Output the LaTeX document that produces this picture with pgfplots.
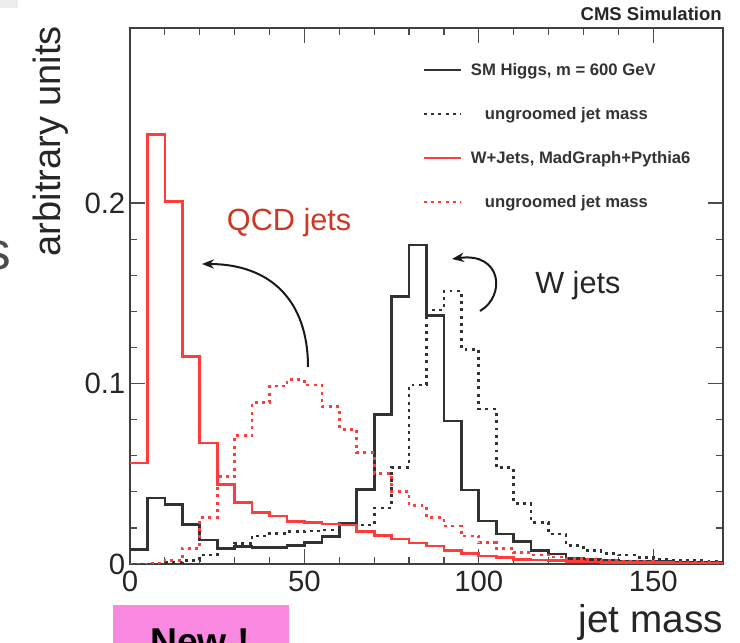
\documentclass[border=0pt]{standalone}
\usepackage{pgfplots}
\pgfplotsset{compat=1.18}
\usepackage{fontspec}
\setmainfont{Liberation Sans}
\usetikzlibrary{arrows.meta}

\definecolor{hblack}{RGB}{50,50,50}
\definecolor{wred}{RGB}{255,60,60}
\definecolor{qcdred}{RGB}{205,55,35}
\definecolor{newpink}{RGB}{248,136,224}

\begin{document}
\begin{tikzpicture}
\begin{axis}[
  at={(0pt,0pt)}, anchor=south west,
  scale only axis, width=444.75pt, height=402pt,
  xmin=0, xmax=170, ymin=0, ymax=0.297,
  xtick={0,50,100,150}, ytick={0,0.1,0.2},
  minor x tick num=4, minor y tick num=4,
  tick align=inside,
  major tick length=11.5pt, minor tick length=5.5pt,
  every tick/.append style={black!70, line width=0.9pt},
  axis line style={black!75, line width=1.4pt},
  tick label style={font=\fontsize{22}{26}\selectfont, text=black!85},
  /pgf/number format/assume math mode=true,
  yticklabel style={/pgf/number format/fixed, /pgf/number format/precision=1},
  xticklabel style={yshift=-2pt},
  xlabel={jet mass}, ylabel={arbitrary units},
  xlabel style={at={(axis description cs:1,0)}, anchor=base east, yshift=-51.75pt,
    font=\fontsize{29}{34}\selectfont, text=black!85, inner sep=0pt},
  ylabel style={at={(axis description cs:-0.1332,0.789)}, anchor=center,
    font=\fontsize{28.5}{34}\selectfont, text=black!85},
  legend style={draw=none, fill=none, at={(axis description cs:0.493,0.94)},
    anchor=north west, inner sep=0pt, row sep=18.5pt,
    font=\fontsize{12.5}{15}\bfseries\selectfont, text=black!80, cells={anchor=west},
    /tikz/every odd column/.append style={column sep=5pt}},
  legend image code/.code={\draw[#1, line width=1.5pt] (0pt,0pt) -- (27.75pt,0pt);},
]
% SM Higgs groomed (black solid)
\addplot[const plot, hblack, line width=2pt] table {
x y
0 0.008
5 0.0365
10 0.033
15 0.022
20 0.0133
25 0.0087
30 0.0096
35 0.0092
40 0.0092
45 0.0102
50 0.0119
55 0.0153
60 0.0225
65 0.0414
70 0.0828
75 0.1481
80 0.1768
85 0.1376
90 0.0792
95 0.041
100 0.0238
105 0.0166
110 0.0124
115 0.0076
120 0.0055
125 0.0031
130 0.0024
135 0.002
140 0.0017
145 0.0015
150 0.0013
155 0.0011
160 0.001
165 0.0009
170 0.0009
};
\addlegendentry{SM Higgs, m = 600 GeV}
% SM Higgs ungroomed (black dotted)
\addplot[const plot, hblack, line width=2pt, dash pattern=on 2.2pt off 3.3pt] table {
x y
0 0
5 0
10 0.001
15 0.002
20 0.005
25 0.0087
30 0.0114
35 0.0155
40 0.017
45 0.0179
50 0.0182
55 0.0188
60 0.022
65 0.0216
70 0.031
75 0.0536
80 0.0992
85 0.1407
90 0.1513
95 0.119
100 0.0859
105 0.0534
110 0.0336
115 0.0231
120 0.0166
125 0.0102
130 0.0074
135 0.0059
140 0.005
145 0.0037
150 0.0026
155 0.0022
160 0.0018
165 0.0017
170 0.0017
};
\addlegendentry{\hspace*{10.5pt}ungroomed jet mass}
% W+Jets groomed (red solid)
\addplot[const plot, wred, line width=2pt] table {
x y
0 0.056
5 0.238
10 0.201
15 0.115
20 0.067
25 0.044
30 0.034
35 0.0285
40 0.0266
45 0.0235
50 0.0229
55 0.0222
60 0.0216
65 0.018
70 0.0158
75 0.0138
80 0.0117
85 0.0099
90 0.0076
95 0.0059
100 0.0044
105 0.0035
110 0.0026
115 0.0022
120 0.0018
125 0.0015
130 0.0012
135 0.001
140 0.0009
145 0.0008
150 0.0007
155 0.0006
160 0.0005
165 0.0005
170 0.0005
};
\addlegendentry{W+Jets, MadGraph+Pythia6}
% W+Jets ungroomed (red dotted)
\addplot[const plot, wred, line width=2pt, dash pattern=on 2.2pt off 3.3pt] table {
x y
0 0
5 0.0005
10 0.002
15 0.0087
20 0.0257
25 0.0484
30 0.0711
35 0.0894
40 0.0986
45 0.1023
50 0.0992
55 0.0872
60 0.0746
65 0.0617
70 0.0502
75 0.0401
80 0.0324
85 0.0256
90 0.021
95 0.0155
100 0.0118
105 0.0087
110 0.0063
115 0.005
120 0.0038
125 0.003
130 0.0024
135 0.002
140 0.0017
145 0.0014
150 0.0012
155 0.001
160 0.0009
165 0.0008
170 0.0008
};
\addlegendentry{\hspace*{10.5pt}ungroomed jet mass}
\end{axis}

\begin{scope}[x=0.75pt, y=-0.75pt, shift={(-97.5pt,423pt)}]
  \node[anchor=base west, inner sep=0pt, text=qcdred, font=\fontsize{23}{27}\selectfont] at (226.7,230.7) {QCD jets};
  \node[anchor=base west, inner sep=0pt, text=black!85, font=\fontsize{23}{27}\selectfont] at (535,294) {W jets};
  \draw[black!90, line width=1.5pt, -{Stealth[length=9pt,width=7pt]}] (308,367) .. controls (308,300) and (270,264) .. (202,264);
  \draw[black!90, line width=1.5pt, -{Stealth[length=9pt,width=7pt]}] (480,311) .. controls (506,296) and (502,252) .. (452,259);
  \node[anchor=base east, inner sep=0pt, text=black!85, font=\fontsize{13.9}{16}\bfseries\selectfont] at (722,20.7) {CMS Simulation};
  \fill[newpink] (112.7,605) rectangle (289.3,660);
  \node[anchor=base, inner sep=0pt, font=\fontsize{28}{32}\bfseries\selectfont] at (200,654) {New !};
  \fill[black!7] (0,0) rectangle (18,8);
  \node[anchor=base east, inner sep=0pt, text=black!70, font=\fontsize{40}{44}\selectfont] at (11,270) {s};
\end{scope}
\pgfresetboundingbox
\useasboundingbox (-97.5pt,-59.25pt) rectangle (457.5pt,423pt);
\end{tikzpicture}
\end{document}
